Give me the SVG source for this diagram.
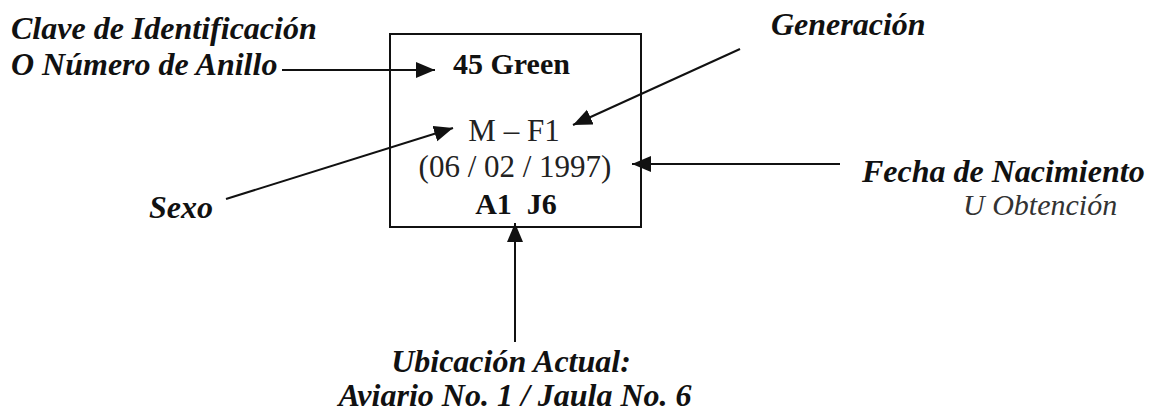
<svg xmlns="http://www.w3.org/2000/svg" width="1155" height="415" viewBox="0 0 1155 415">
<style>
.lbl{font-family:"Liberation Serif","Times New Roman",serif;font-style:italic;font-weight:bold;font-size:32px;fill:#111}
.lbl2{font-family:"Liberation Serif","Times New Roman",serif;font-style:italic;font-size:30px;fill:#333}
.in{font-family:"Liberation Serif","Times New Roman",serif;font-size:31px;fill:#222;text-anchor:middle}
.inb{font-family:"Liberation Serif","Times New Roman",serif;font-size:30px;font-weight:bold;fill:#111;white-space:pre}
.box{fill:none;stroke:#111;stroke-width:2}
.con{stroke:#111;stroke-width:2;fill:none;marker-end:url(#ah)}
</style>
<defs>
<marker id="ah" markerUnits="userSpaceOnUse" markerWidth="20" markerHeight="18" refX="19" refY="8" orient="auto">
<path d="M0,0 L19,8 L0,16 z" fill="#111"/>
</marker>
</defs>
<rect width="1155" height="415" fill="#fff"/>
<g id="card">
<rect class="box" x="390" y="34" width="251" height="193"/>
<text class="inb" x="453" y="74">45 Green</text>
<text class="in" x="514" y="141">M – F1</text>
<text class="in" x="515" y="177">(06 / 02 / 1997)</text>
<text class="inb" x="516" y="214" text-anchor="middle">A1  J6</text>
</g>
<g id="label-clave">
<text class="lbl" x="11" y="39">Clave de Identificación</text>
<text class="lbl" x="11" y="75">O Número de Anillo</text>
</g>
<g id="label-generacion">
<text class="lbl" x="771" y="35">Generación</text>
</g>
<g id="label-sexo">
<text class="lbl" x="149" y="218">Sexo</text>
</g>
<g id="label-fecha">
<text class="lbl" x="862" y="182">Fecha de Nacimiento</text>
<text class="lbl2" x="963" y="215">U Obtención</text>
</g>
<g id="label-ubicacion">
<text class="lbl" x="511" y="372" text-anchor="middle">Ubicación Actual:</text>
<text class="lbl" x="515" y="406" text-anchor="middle">Aviario No. 1 / Jaula No. 6</text>
</g>
<g id="connectors">
<line class="con" x1="282" y1="70" x2="435" y2="70"/>
<line class="con" x1="740" y1="49" x2="573" y2="125"/>
<line class="con" x1="226" y1="199" x2="453" y2="128"/>
<line class="con" x1="840" y1="164" x2="632" y2="164"/>
<line class="con" x1="515" y1="342" x2="515" y2="223"/>
</g>
</svg>
